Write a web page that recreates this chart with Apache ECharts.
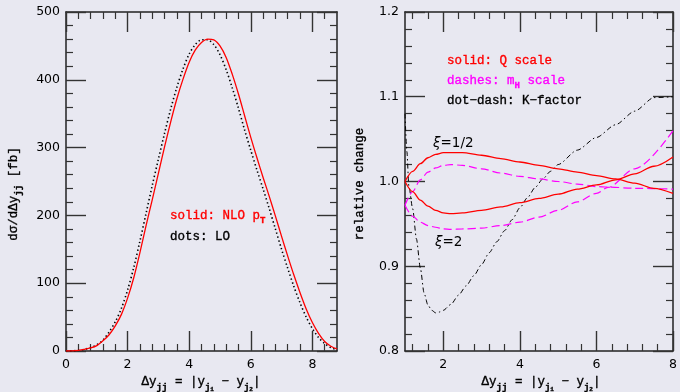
<!DOCTYPE html>
<html>
<head>
<meta charset="utf-8">
<script src="https://cdn.jsdelivr.net/npm/echarts@6/dist/echarts.min.js"></script>
<style>
html,body{margin:0;padding:0;background:#e8e8f1;}
#c{width:680px;height:392px;}
</style>
</head>
<body>
<div id="c"></div>
<script>
// ---------- Left panel data: dσ/dΔy_jj [fb] ----------
const xLeft = [0,0.2,0.4,0.6,0.8,1.0,1.2,1.4,1.6,1.8,2.0,2.2,2.4,2.6,2.8,3.0,3.2,3.4,3.6,3.8,4.0,4.2,4.4,4.6,4.8,5.0,5.2,5.4,5.6,5.8,6.0,6.2,6.4,6.6,6.8,7.0,7.2,7.4,7.6,7.8,8.0,8.2,8.4,8.6,8.8];
const nloPt = [0,0.3,1,2.5,4.5,8,15,24,37,54,78,108,145,185,223,262,301,338,372,401,426,444,455,460,459,450,433,408,379,347,315,285,256,228,199,169,140,112,86,62,42,26,14,7,3];
const lo = [0,0.3,1,2.5,5,9,16,28,43,63,90,123,162,203,244,283,321,357,389,416,438,452,459,459,452,437,415,388,358,326,296,267,239,210,180,150,122,95,71,50,33,20,11,5,2];

// ---------- Right panel data: relative change ----------
const xQ = [1.0,1.2,1.4,1.6,1.8,2.0,2.2,2.5,3.0,3.5,4.0,4.5,5.0,5.5,6.0,6.5,7.0,7.5,8.0];
const qHalf = [1.000,1.012,1.021,1.028,1.032,1.034,1.034,1.034,1.031,1.027,1.023,1.019,1.015,1.011,1.007,1.003,0.998,0.992,0.986];
const qTwo  = [1.000,0.988,0.978,0.971,0.966,0.963,0.962,0.963,0.966,0.970,0.975,0.980,0.985,0.991,0.996,1.002,1.009,1.018,1.029];
const xM = [1.0,1.2,1.4,1.6,1.8,2.0,2.2,2.5,3.0,3.5,4.0,4.5,5.0,5.5,6.0,6.3,7.0,8.0];
const mHalf = [0.972,0.988,1.002,1.011,1.016,1.019,1.020,1.019,1.015,1.010,1.006,1.003,1.000,0.997,0.994,0.9935,0.992,0.991];
const mTwo  = [0.972,0.959,0.952,0.948,0.946,0.944,0.9435,0.944,0.945,0.948,0.952,0.958,0.966,0.976,0.986,0.993,1.015,1.060];
const xK = [1.0,1.05,1.1,1.2,1.3,1.4,1.5,1.6,1.7,1.8,1.9,2.0,2.2,2.4,2.6,2.8,3.0,3.2,3.4,3.6,3.8,4.0,4.2,4.4,4.6,4.8,5.0,5.5,6.0,6.5,7.0,7.5,8.0];
const kFactor = [1.080,1.035,0.995,0.968,0.932,0.898,0.868,0.854,0.848,0.845,0.846,0.848,0.855,0.866,0.877,0.889,0.902,0.916,0.929,0.942,0.955,0.969,0.981,0.993,1.003,1.012,1.020,1.037,1.052,1.067,1.083,1.099,1.100];

// ---------- Ticks ----------
const leftXMajor = [0,2,4,6,8];
const leftXMinor = [0.4,0.8,1.2,1.6,2.4,2.8,3.2,3.6,4.4,4.8,5.2,5.6,6.4,6.8,7.2,7.6,8.4];
const leftYMajor = [0,100,200,300,400,500];
const leftYMinor = [20,40,60,80,120,140,160,180,220,240,260,280,320,340,360,380,420,440,460,480];
const rightXMajor = [2,4,6,8];
const rightXMinor = [1.2,1.6,2.4,2.8,3.2,3.6,4.4,4.8,5.2,5.6,6.4,6.8,7.2,7.6];
const rightYMajor = [0.8,0.9,1.0,1.1,1.2];
const rightYMinor = [0.82,0.84,0.86,0.88,0.92,0.94,0.96,0.98,1.02,1.04,1.06,1.08,1.12,1.14,1.16,1.18];

const pair = (xs, ys) => xs.map((x, i) => [x, ys[i]]);

const AX = '#222';
const TICK = '#333';
const NUMFONT = 'DejaVu Sans';
const TT = 'Liberation Mono';

function xAxes(grid, min, max, major, minor, fmt) {
  const base = {type:'value', gridIndex:grid, min:min, max:max, splitLine:{show:false}};
  return [
    Object.assign({}, base, {position:'bottom',
      axisLine:{show:true, onZero:false, lineStyle:{color:AX, width:1.5}},
      axisTick:{show:true, inside:true, length:20, customValues:major, lineStyle:{color:TICK, width:1.4}},
      axisLabel:{show:true, customValues:major, margin:7, color:'#000', fontFamily:NUMFONT, fontSize:12.5, formatter:fmt}}),
    Object.assign({}, base, {position:'bottom',
      axisLine:{show:false, onZero:false},
      axisTick:{show:true, inside:true, length:7, customValues:minor, lineStyle:{color:TICK, width:1.2}},
      axisLabel:{show:false}}),
    Object.assign({}, base, {position:'top',
      axisLine:{show:true, onZero:false, lineStyle:{color:AX, width:1.5}},
      axisTick:{show:true, inside:true, length:20, customValues:major, lineStyle:{color:TICK, width:1.4}},
      axisLabel:{show:false}}),
    Object.assign({}, base, {position:'top',
      axisLine:{show:false, onZero:false},
      axisTick:{show:true, inside:true, length:7, customValues:minor, lineStyle:{color:TICK, width:1.2}},
      axisLabel:{show:false}})
  ];
}
function yAxes(grid, min, max, major, minor, fmt) {
  const base = {type:'value', gridIndex:grid, min:min, max:max, splitLine:{show:false}};
  return [
    Object.assign({}, base, {position:'left',
      axisLine:{show:true, onZero:false, lineStyle:{color:AX, width:1.5}},
      axisTick:{show:true, inside:true, length:20, customValues:major, lineStyle:{color:TICK, width:1.4}},
      axisLabel:{show:true, customValues:major, margin:6, color:'#000', fontFamily:NUMFONT, fontSize:12.5, formatter:fmt}}),
    Object.assign({}, base, {position:'left',
      axisLine:{show:false, onZero:false},
      axisTick:{show:true, inside:true, length:7, customValues:minor, lineStyle:{color:TICK, width:1.2}},
      axisLabel:{show:false}}),
    Object.assign({}, base, {position:'right',
      axisLine:{show:true, onZero:false, lineStyle:{color:AX, width:1.5}},
      axisTick:{show:true, inside:true, length:20, customValues:major, lineStyle:{color:TICK, width:1.4}},
      axisLabel:{show:false}}),
    Object.assign({}, base, {position:'right',
      axisLine:{show:false, onZero:false},
      axisTick:{show:true, inside:true, length:7, customValues:minor, lineStyle:{color:TICK, width:1.2}},
      axisLabel:{show:false}})
  ];
}

const intFmt = v => String(Math.round(v));
const oneDec = v => v.toFixed(1);

const subRich = {
  s:{fontSize:9, fontWeight:'bold', fontFamily:TT, verticalAlign:'bottom', lineHeight:18},
  ss:{fontSize:6, fontWeight:'bold', fontFamily:TT, verticalAlign:'bottom', lineHeight:21}
};
function ttStyle(text, color, align) {
  return {text:text, fill:color, stroke:color, lineWidth:0.35, fontFamily:TT, fontSize:12.5,
    textAlign:align, textVerticalAlign:'middle', rich:subRich};
}
function tt(x, y, text, color, align) {
  return {type:'text', x:x, y:y, silent:true, style:ttStyle(text, color, align || 'left')};
}
const xTitle = 'Δy{s|jj} = |y{s|j}{ss|1} − y{s|j}{ss|2}|';

const option = {
  backgroundColor:'#e8e8f1',
  animation:false,
  grid:[
    {left:66, top:12, right:343, bottom:41},
    {left:405, top:12, right:4, bottom:41}
  ],
  xAxis: xAxes(0, 0, 8.8, leftXMajor, leftXMinor, intFmt).concat(xAxes(1, 1, 8, rightXMajor, rightXMinor, intFmt)),
  yAxis: yAxes(0, 0, 500, leftYMajor, leftYMinor, intFmt).concat(yAxes(1, 0.8, 1.2, rightYMajor, rightYMinor, oneDec)),
  series:[
    {type:'line', name:'LO', xAxisIndex:0, yAxisIndex:0, data:pair(xLeft, lo), showSymbol:false, smooth:0.3,
      lineStyle:{color:'#000', width:1.6, type:[1.4,2.6]}},
    {type:'line', name:'NLO pT', xAxisIndex:0, yAxisIndex:0, data:pair(xLeft, nloPt), showSymbol:false, smooth:0.3,
      lineStyle:{color:'#ff0000', width:1.3}},
    {type:'line', name:'K-factor', xAxisIndex:4, yAxisIndex:4, data:pair(xK, kFactor), showSymbol:false, smooth:0.25, smoothMonotone:'x',
      lineStyle:{color:'#000', width:1, type:[5,3,1.5,3]}},
    {type:'line', name:'mH xi=1/2', xAxisIndex:4, yAxisIndex:4, data:pair(xM, mHalf), showSymbol:false, smooth:0.3, smoothMonotone:'x',
      lineStyle:{color:'#ff00ff', width:1.2, type:[8,4]}},
    {type:'line', name:'mH xi=2', xAxisIndex:4, yAxisIndex:4, data:pair(xM, mTwo), showSymbol:false, smooth:0.3, smoothMonotone:'x',
      lineStyle:{color:'#ff00ff', width:1.2, type:[8,4]}},
    {type:'line', name:'Q xi=1/2', xAxisIndex:4, yAxisIndex:4, data:pair(xQ, qHalf), showSymbol:false, smooth:0.3, smoothMonotone:'x',
      lineStyle:{color:'#ff0000', width:1.3}},
    {type:'line', name:'Q xi=2', xAxisIndex:4, yAxisIndex:4, data:pair(xQ, qTwo), showSymbol:false, smooth:0.3, smoothMonotone:'x',
      lineStyle:{color:'#ff0000', width:1.3}}
  ],
  graphic:[
    tt(170, 216, 'solid: NLO p{s|T}', '#ff0000'),
    tt(170, 237, 'dots: LO', '#000'),
    tt(447, 61, 'solid: Q scale', '#ff0000'),
    tt(447, 81, 'dashes: m{s|H} scale', '#ff00ff'),
    tt(447, 101, 'dot−dash: K−factor', '#000'),
    {type:'text', x:433, y:143, silent:true,
      style:{text:'{i|ξ}=1/2', fill:'#000', fontFamily:NUMFONT, fontSize:13.5, textVerticalAlign:'middle',
        rich:{i:{fontStyle:'italic', fontFamily:NUMFONT, fontSize:13.5}}}},
    {type:'text', x:435, y:242, silent:true,
      style:{text:'{i|ξ}=2', fill:'#000', fontFamily:NUMFONT, fontSize:13.5, textVerticalAlign:'middle',
        rich:{i:{fontStyle:'italic', fontFamily:NUMFONT, fontSize:13.5}}}},
    tt(201, 382, xTitle, '#000', 'center'),
    tt(541, 382, xTitle, '#000', 'center'),
    {type:'text', x:14, y:194, rotation:Math.PI/2, silent:true, style:ttStyle('dσ/dΔy{s|jj} [fb]', '#000', 'center')},
    {type:'text', x:360, y:184, rotation:Math.PI/2, silent:true, style:ttStyle('relative change', '#000', 'center')}
  ]
};
const chart = echarts.init(document.getElementById('c'), null, {renderer:'canvas'});
chart.setOption(option);
</script>
</body>
</html>
